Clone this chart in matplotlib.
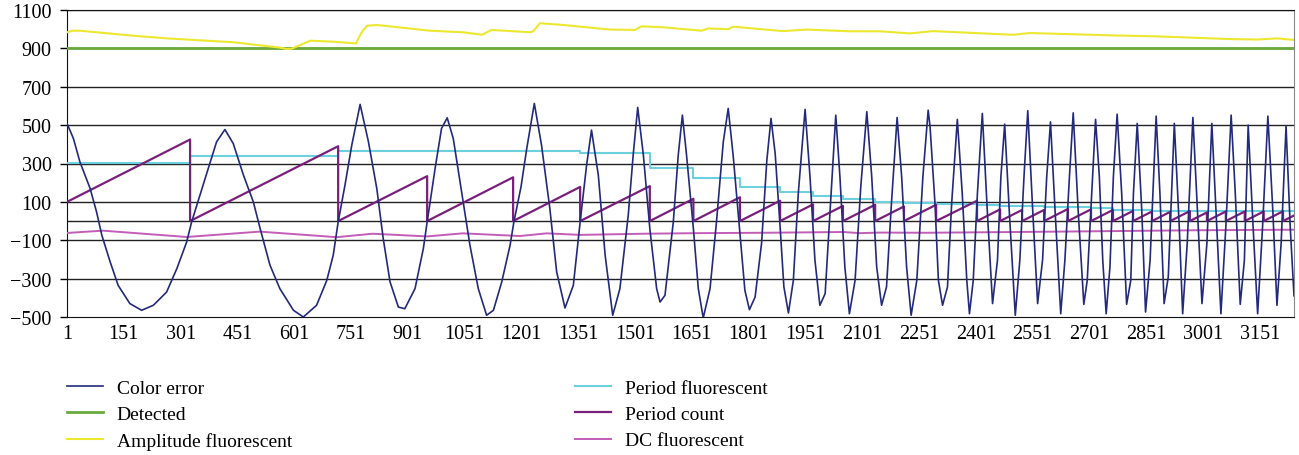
import matplotlib.pyplot as plt

# sample index range and tick labels
n_samples = 3241
x_ticks = list(range(1, 3152, 150))
y_ticks = [-500, -300, -100, 100, 300, 500, 700, 900, 1100]

# Color error
color_error_x = [1, 18, 35, 62, 79, 93, 115, 136, 167, 198, 229, 264, 291, 317, 330, 352, 374, 396, 418,
                 440, 467, 493, 511, 537, 563, 599, 625, 660, 687, 704, 717, 735, 753, 775, 797, 819, 836,
                 854, 876, 893, 920, 942, 952, 973, 990, 1005, 1021, 1043, 1065, 1087, 1109, 1127, 1149,
                 1171, 1181, 1200, 1215, 1235, 1254, 1276, 1294, 1316, 1338, 1356, 1373, 1386, 1404, 1422,
                 1442, 1461, 1483, 1496, 1508, 1523, 1540, 1558, 1567, 1580, 1602, 1615, 1626, 1637, 1655,
                 1668, 1681, 1699, 1716, 1734, 1747, 1760, 1778, 1791, 1803, 1818, 1835, 1849, 1860, 1871,
                 1884, 1894, 1906, 1919, 1932, 1950, 1963, 1976, 1989, 2003, 2016, 2031, 2042, 2055, 2067,
                 2082, 2097, 2113, 2126, 2139, 2152, 2165, 2178, 2193, 2205, 2218, 2230, 2245, 2261, 2275,
                 2280, 2293, 2302, 2313, 2326, 2337, 2352, 2365, 2377, 2384, 2394, 2405, 2418, 2431, 2445,
                 2458, 2467, 2477, 2489, 2505, 2517, 2528, 2538, 2551, 2564, 2577, 2588, 2598, 2610, 2625,
                 2636, 2648, 2658, 2671, 2686, 2695, 2707, 2717, 2727, 2736, 2745, 2755, 2764, 2774, 2786,
                 2799, 2810, 2817, 2827, 2839, 2849, 2861, 2877, 2887, 2898, 2909, 2925, 2938, 2947, 2959,
                 2974, 2986, 2998, 3011, 3024, 3037, 3048, 3061, 3075, 3086, 3099, 3110, 3120, 3133, 3145,
                 3158, 3172, 3185, 3196, 3207, 3220, 3231, 3241]
color_error_y = [509, 430, 309, 170, 48, -74, -213, -335, -430, -465, -439, -370, -248, -109, -5, 135, 274, 413, 477,
                 404, 239, 100, -39, -230, -352, -465, -500, -439, -309, -178, -5, 187, 396, 608, 413, 170, -91,
                 -317, -448, -457, -352, -143, -5, 274, 483, 538, 430, 152, -126, -352, -491, -465, -317,
                 -126, -5, 180, 378, 613, 396, 65, -265, -453, -335, -5, 291, 474, 239, -178,
                 -491, -352, 30, 343, 592, 343, -39, -352, -422, -387, -5, 343, 552, 343, -39,
                 -352, -505, -352, -5, 413, 587, 343, -65, -361, -462, -396, -117, 317, 535, 352,
                 -30, -343, -479, -309, 143, 582, 230, -204, -439, -378, 57, 552, 230, -239, -483,
                 -309, 178, 570, 230, -239, -439, -343, 91, 540, 230, -239, -491, -309, 230, 578,
                 491, 91, -309, -439, -343, 91, 530, 143, -309, -483, -309, 143, 561, 57, -430,
                 -204, 230, 505, 57, -491, -204, 230, 575, 57, -430, -204, 230, 517, 57, -483,
                 -204, 230, 564, 57, -434, -309, 143, 530, 230, -204, -483, -239, 230, 557, 143,
                 -434, -309, 143, 509, 57, -474, -204, 547, 143, -430, -291, 509, -30, -483, -117,
                 540, 57, -430, -117, 509, -30, -483, -30, 552, 143, -434, -204, 500, -30, -483,
                 -30, 547, 57, -439, -117, 495, -30, -390]

detected = 900

amplitude_x = [1, 15, 35, 176, 265, 440, 563, 581, 594, 643, 703, 764, 779, 793, 819, 960, 1046, 1097, 1122,
               1224, 1232, 1250, 1311, 1435, 1501, 1518, 1575, 1677, 1694, 1747, 1760, 1891, 1955, 2069, 2148,
               2227, 2288, 2499, 2544, 2755, 2887, 3064, 3143, 3196, 3241]
amplitude_y = [984, 992, 992, 966, 952, 932, 904, 897, 898, 940, 935, 926, 984, 1018, 1022, 992, 984, 971, 996,
               984, 989, 1031, 1022, 998, 996, 1015, 1010, 992, 1004, 1000, 1013, 990, 998, 989, 989,
               978, 990, 971, 980, 968, 962, 949, 946, 952, 944]

# step levels of period fluorescent
period_fl_x = [1, 326, 717, 1356, 1540, 1655, 1778, 1884, 1971, 2050, 2135, 2211, 2296, 2404, 2465, 2581,
               2705, 2763, 2866, 3011, 3241]
period_fl_y = [305, 338, 366, 356, 274, 222, 178, 153, 132, 115, 101, 94, 89, 84, 80, 73, 66, 59, 54, 51, 51]

# period count: resets and the value reached just before each reset
reset_x = [326, 717, 952, 1179, 1356, 1540, 1655, 1778, 1884, 1971, 2050, 2135, 2211, 2296, 2404, 2465,
           2523, 2581, 2644, 2705, 2763, 2816, 2866, 2914, 2966, 3011, 3061, 3111, 3161, 3212]
reset_peak = [425, 390, 234, 228, 178, 182, 116, 124, 106, 87, 79, 85, 76, 85, 106, 61, 58, 58, 63, 61, 58,
              53, 50, 48, 52, 45, 50, 50, 50, 51]
count_start = 100
count_end = 29

dc_x = [1, 96, 317, 510, 713, 808, 952, 1046, 1197, 1268, 1356, 1525, 1667, 1843, 2050, 2095, 2148, 2271,
        2623, 2975, 3241]
dc_y = [-62, -50, -83, -55, -84, -66, -80, -64, -78, -64, -72, -66, -63, -61, -57, -63, -60, -61,
        -55, -48, -45]

# build sawtooth vertices
pc_x = [1]
pc_y = [count_start]
for rx, pk in zip(reset_x, reset_peak):
    pc_x += [rx, rx]
    pc_y += [pk, 0]
pc_x.append(n_samples)
pc_y.append(count_end)

plt.rcParams['font.family'] = ['Liberation Serif', 'DejaVu Serif']

fig = plt.figure(figsize=(12.99, 4.56), dpi=100)
ax = fig.add_axes([67 / 1299, 1 - 318 / 456, (1294 - 67) / 1299, (318 - 11) / 456])

for yv in [-300, -100, 0, 100, 300, 500, 700, 900, 1100]:
    ax.axhline(yv, color='#222222', lw=1.0, zorder=1)

l1, = ax.plot(color_error_x, color_error_y, color='#232a7c', lw=1.2, zorder=4, label='Color error')
l2 = ax.axhline(detected, color='#6aaa3c', lw=2.0, zorder=3, label='Detected')
l3, = ax.plot(amplitude_x, amplitude_y, color='#ece830', lw=1.5, zorder=3, label='Amplitude fluorescent')
l4, = ax.plot(period_fl_x, period_fl_y, color='#6dd0df', lw=1.5, drawstyle='steps-post', zorder=3,
              label='Period fluorescent')
l5, = ax.plot(pc_x, pc_y, color='#7a1f7c', lw=1.6, zorder=3, label='Period count')
l6, = ax.plot(dc_x, dc_y, color='#c35db8', lw=1.4, zorder=3, label='DC fluorescent')

ax.set_xlim(1, n_samples)
ax.set_ylim(-500, 1100)
ax.set_xticks(x_ticks)
ax.set_yticks(y_ticks)
ax.tick_params(axis='x', length=0, pad=5, labelsize=14.5)
ax.tick_params(axis='y', length=5, width=1, pad=6, labelsize=14.5, direction='out')
for s in ['left', 'bottom', 'top']:
    ax.spines[s].set_color('#111111')
ax.spines['right'].set_color('#888888')

leg_kw = dict(frameon=False, fontsize=14, handlelength=1.85, handletextpad=0.7, labelspacing=0.45,
              borderpad=0, borderaxespad=0, loc='upper left')
fig.legend(handles=[l1, l2, l3], bbox_to_anchor=(67 / 1299, 1 - 380 / 456), **leg_kw)
fig.legend(handles=[l4, l5, l6], bbox_to_anchor=(575 / 1299, 1 - 380 / 456), **leg_kw)

fig.savefig('out.png', dpi=100)
